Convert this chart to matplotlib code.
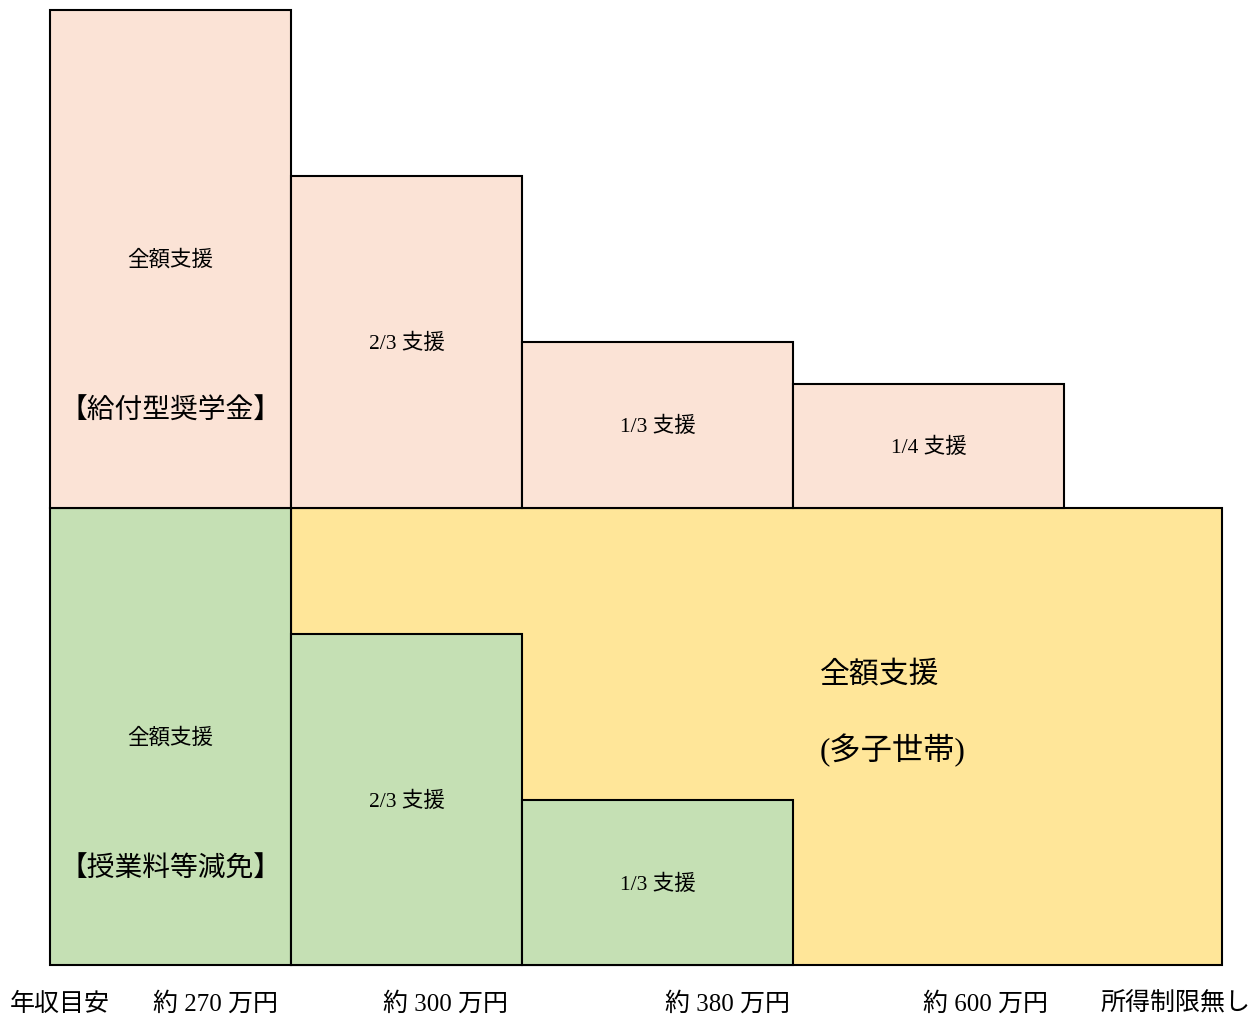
import matplotlib
matplotlib.use("Agg")
import matplotlib.pyplot as plt
from matplotlib.patches import Rectangle

plt.rcParams['font.family'] = ['Liberation Serif', 'Noto Sans CJK JP']

# income brackets (widths in chart units)
bracket_widths = [241, 231, 271, 271, 158]
bracket_labels = ["約 270 万円", "約 300 万円", "約 380 万円", "約 600 万円", "所得制限無し"]

# 給付型奨学金 (upper block), 授業料等減免 (lower block)
grant_heights = [498, 332, 166, 124]
grant_labels = ["全額支援", "2/3 支援", "1/3 支援", "1/4 支援"]
tuition_heights = [457, 331, 165]
tuition_labels = ["全額支援", "2/3 支援", "1/3 支援"]
base = 457  # lower block height

peach = '#FBE3D6'
green = '#C5E0B4'
yellow = '#FFE699'

fig = plt.figure(figsize=(12.58, 10.16), dpi=100)
ax = fig.add_axes([0, 0, 1, 1])
ax.set_xlim(-50, 1208)
ax.set_ylim(-51, 965)
ax.axis('off')

edges = [0]
for w in bracket_widths:
    edges.append(edges[-1] + w)

# yellow multi-child area
ax.add_patch(Rectangle((edges[1], 0), edges[5] - edges[1], base,
                       facecolor=yellow, edgecolor='black', lw=1.5))

# tuition reduction
for i, h in enumerate(tuition_heights):
    ax.add_patch(Rectangle((edges[i], 0), bracket_widths[i], h,
                           facecolor=green, edgecolor='black', lw=1.5))

# grant scholarship
for i, h in enumerate(grant_heights):
    ax.add_patch(Rectangle((edges[i], base), bracket_widths[i], h,
                           facecolor=peach, edgecolor='black', lw=1.5))

# labels inside boxes (small downward nudge for the CJK glyph box)
small = 15.5
big = 20
dy = -2
ax.text(edges[0] + bracket_widths[0] / 2, 965 - 258 + dy, grant_labels[0],
        ha='center', va='center', fontsize=small)
ax.text(edges[0] + bracket_widths[0] / 2, 965 - 412, "【給付型奨学金】",
        ha='center', va='center', fontsize=big)
for i in range(1, 4):
    ax.text(edges[i] + bracket_widths[i] / 2, base + grant_heights[i] / 2 + dy,
            grant_labels[i], ha='center', va='center', fontsize=small)

ax.text(edges[0] + bracket_widths[0] / 2, 965 - 736 + dy, tuition_labels[0],
        ha='center', va='center', fontsize=small)
ax.text(edges[0] + bracket_widths[0] / 2, 965 - 870, "【授業料等減免】",
        ha='center', va='center', fontsize=big)
for i in range(1, 3):
    ax.text(edges[i] + bracket_widths[i] / 2, tuition_heights[i] / 2 + dy,
            tuition_labels[i], ha='center', va='center', fontsize=small)

ax.text(770, 965 - 674, "全額支援", ha='left', va='center', fontsize=21.5)
ax.text(770, 965 - 750, "(多子世帯)", ha='left', va='center', fontsize=22.5)

# income axis labels
label_y = 965 - 1004
ax.text(-40, label_y, "年収目安", ha='left', va='center', fontsize=18)
label_right = [228, 458, 740, 998, 1200]
for x, lab in zip(label_right, bracket_labels):
    ax.text(x, label_y, lab, ha='right', va='center', fontsize=18)

fig.savefig('out.png', dpi=100)
